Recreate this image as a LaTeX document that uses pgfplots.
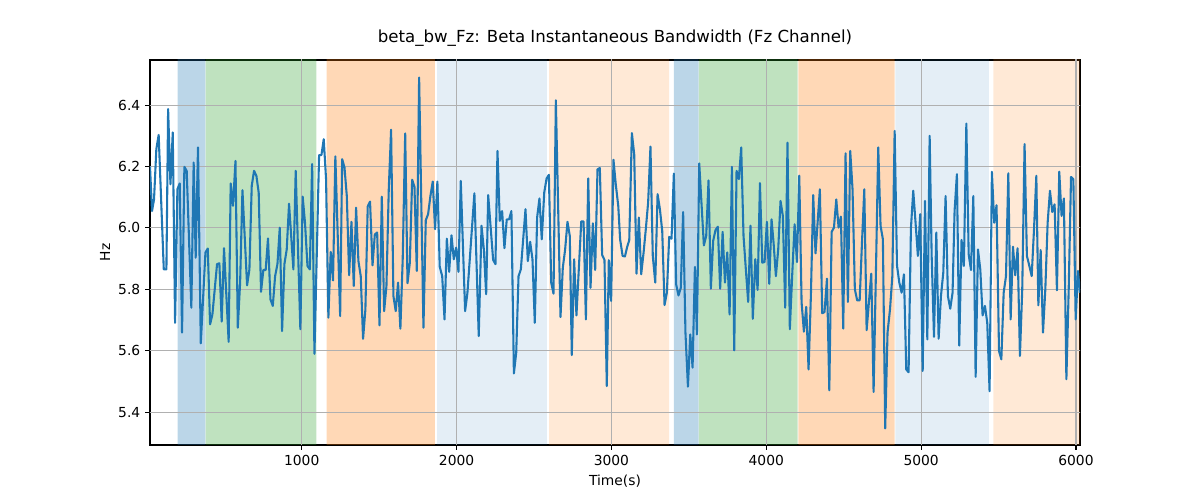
\documentclass[border=0pt]{standalone}
\usepackage{fontspec}
\setmainfont{DejaVu Sans}
\usepackage{pgfplots}
\pgfplotsset{compat=1.18}
\usepackage{pgfplotstable}
\definecolor{tabblue}{RGB}{31,119,180}
\definecolor{taborange}{RGB}{255,127,14}
\definecolor{tabgreen}{RGB}{44,160,44}
\definecolor{gridgray}{RGB}{176,176,176}

\pgfplotstableread{
t v
20 6.200
33 6.055
46 6.093
61 6.257
76 6.303
109 5.865
126 5.865
137 6.387
152 6.142
167 6.311
182 5.691
197 6.126
212 6.145
227 5.659
242 6.199
257 6.186
287 5.740
302 6.213
315 5.903
330 6.262
348 5.624
378 5.920
393 5.933
408 5.686
423 5.718
453 5.882
468 5.885
483 5.695
498 5.934
528 5.629
541 6.145
556 6.072
572 6.218
587 5.675
602 5.822
617 6.123
647 5.813
662 5.865
677 6.137
692 6.186
707 6.170
722 6.115
737 5.792
752 5.863
767 5.863
782 5.966
798 5.767
813 5.746
828 5.843
843 5.882
858 6.001
873 5.664
888 5.882
903 5.930
918 6.079
946 5.865
961 6.186
991 5.670
1006 6.102
1021 6.017
1037 5.876
1052 5.865
1067 6.208
1082 5.590
1112 6.237
1127 6.237
1142 6.289
1157 6.159
1172 5.708
1187 5.922
1202 5.829
1217 6.233
1248 5.713
1261 6.224
1276 6.197
1291 6.104
1306 5.846
1321 6.020
1336 5.811
1351 6.066
1366 5.892
1381 5.843
1396 5.639
1411 5.734
1426 6.070
1441 6.086
1457 5.878
1472 5.979
1487 5.985
1502 5.683
1517 6.102
1532 5.729
1547 5.811
1562 6.126
1577 6.320
1592 5.778
1607 5.729
1622 5.822
1637 5.672
1652 5.898
1668 6.308
1683 5.820
1698 5.887
1713 6.157
1728 6.134
1743 5.860
1758 6.490
1786 5.675
1801 6.025
1816 6.045
1831 6.104
1846 6.151
1861 5.996
1876 6.151
1891 5.874
1907 5.843
1922 5.702
1937 5.965
1952 5.857
1967 5.976
1982 5.898
1997 5.936
2012 5.857
2027 6.153
2055 5.729
2070 5.789
2115 6.113
2143 5.648
2161 6.007
2176 5.930
2191 5.784
2204 6.107
2236 5.896
2251 5.882
2264 6.251
2279 6.023
2294 6.055
2309 5.934
2324 6.028
2339 6.028
2354 6.055
2370 5.526
2385 5.593
2400 5.843
2415 5.865
2445 6.061
2460 5.892
2475 5.955
2490 5.898
2505 5.691
2520 6.034
2535 6.096
2550 5.963
2566 6.115
2581 6.161
2596 6.173
2611 5.822
2626 5.786
2641 6.416
2671 5.710
2686 5.871
2701 5.930
2716 6.020
2731 5.974
2744 5.586
2759 5.898
2774 5.715
2805 6.021
2820 6.021
2835 5.702
2850 6.161
2865 5.805
2880 6.015
2895 5.863
2910 6.191
2925 6.195
2940 5.912
2955 5.896
2970 5.485
2983 5.895
2998 5.762
3013 6.222
3028 6.142
3044 6.072
3056 5.963
3072 5.909
3087 5.907
3102 5.939
3115 5.960
3132 6.309
3147 6.240
3162 5.851
3177 6.034
3192 5.849
3207 5.917
3222 5.996
3237 6.083
3252 6.265
3267 5.909
3283 5.822
3298 6.110
3313 6.061
3328 5.990
3343 5.749
3358 5.789
3373 5.971
3388 5.965
3403 6.177
3418 5.816
3433 5.780
3448 5.805
3463 6.052
3478 5.659
3494 5.483
3509 5.653
3524 5.545
3539 5.873
3552 5.653
3567 6.210
3597 5.943
3612 5.974
3627 6.155
3642 5.802
3657 5.958
3672 5.993
3687 6.004
3702 5.802
3718 5.987
3733 5.822
3748 5.920
3763 5.718
3778 6.199
3793 5.601
3808 6.186
3823 6.159
3838 6.262
3853 5.974
3868 5.865
3883 5.759
3898 6.007
3913 5.704
3929 5.898
3944 5.798
3959 6.146
3974 5.887
3989 5.889
4004 6.020
4019 5.818
4034 6.028
4047 5.952
4062 5.843
4077 5.930
4092 6.088
4107 6.039
4122 5.740
4137 6.278
4152 5.670
4168 5.854
4183 6.012
4198 5.889
4213 6.170
4228 5.757
4243 5.662
4258 5.743
4273 5.539
4288 5.778
4303 6.107
4318 5.917
4346 6.126
4361 5.722
4376 5.726
4392 5.835
4407 5.471
4422 5.987
4437 6.001
4452 6.093
4467 6.001
4482 6.037
4497 5.672
4512 6.243
4527 5.759
4542 6.251
4557 6.126
4572 5.800
4587 5.764
4603 5.764
4618 5.952
4633 6.126
4648 5.667
4678 5.851
4693 5.466
4708 5.854
4723 6.262
4738 6.007
4753 5.963
4768 5.347
4783 5.659
4799 5.735
4814 5.843
4829 6.316
4844 5.878
4859 5.822
4874 5.789
4889 5.849
4904 5.539
4919 5.530
4934 5.998
4949 6.121
4964 6.017
4979 5.909
4994 6.045
5010 5.534
5025 6.088
5040 5.637
5055 6.300
5068 5.909
5083 5.645
5098 5.985
5113 5.639
5128 5.778
5143 5.854
5158 6.104
5173 5.778
5188 5.737
5203 5.789
5216 6.055
5231 6.175
5246 5.617
5261 5.961
5276 5.876
5292 6.340
5307 5.914
5322 5.863
5337 6.104
5352 5.515
5367 5.930
5382 5.865
5397 5.715
5412 5.746
5427 5.691
5442 5.468
5457 6.183
5472 6.017
5487 6.074
5503 5.599
5518 5.572
5533 5.789
5548 5.843
5563 6.178
5578 5.702
5593 5.939
5608 5.846
5623 5.934
5638 5.583
5653 5.800
5668 6.273
5683 5.909
5699 5.876
5714 5.843
5729 5.996
5744 6.170
5757 5.748
5772 5.928
5787 5.659
5802 5.800
5817 6.017
5832 6.121
5847 6.052
5862 6.077
5877 5.797
5892 6.183
5907 6.039
5922 6.096
5938 5.507
5953 5.800
5968 6.166
5983 6.159
5998 5.702
6013 5.860
6026 5.789
}\datatable

\begin{document}
\begin{tikzpicture}
\useasboundingbox (-108bp,-39.6bp) rectangle (756bp,320.4bp);
\begin{axis}[
  at={(0,0)}, anchor=south west,
  scale only axis, width=669.6bp, height=277.2bp,
  xmin=20, xmax=6026, ymin=5.293, ymax=6.547,
  xtick={1000,2000,3000,4000,5000,6000},
  ytick={5.4,5.6,5.8,6.0,6.2,6.4},
  axis line style={black, line width=0.8bp},
  tick style={black, line width=0.8bp},
  tick align=outside, tick pos=left,
  major tick length=3.5bp,
  ticklabel style={font=\fontsize{10}{12}\selectfont},
  /pgf/number format/assume math mode=true,
  xticklabel style={/pgf/number format/1000 sep={}},
  yticklabel style={/pgf/number format/fixed, /pgf/number format/precision=1, /pgf/number format/fixed zerofill},
  title={beta\_bw\_Fz: Beta Instantaneous Bandwidth (Fz Channel)},
  title style={font=\fontsize{12}{14}\selectfont, at={(axis description cs:0.5,1.0364)}, anchor=center},
  xlabel={Time(s)}, ylabel={Hz},
  label style={font=\fontsize{10}{12}\selectfont},
  xlabel style={at={(axis description cs:0.5,-0.0935)}, anchor=center},
  ylabel style={at={(axis description cs:-0.0484,0.5)}, anchor=center, rotate=0},
]
% spans
\addplot[fill=tabblue, draw=none, fill opacity=0.3] coordinates {(199,5.1) (378,5.1) (378,6.7) (199,6.7) (199,5.1)};
\addplot[fill=tabgreen, draw=none, fill opacity=0.3] coordinates {(379,5.1) (1095,5.1) (1095,6.7) (379,6.7) (379,5.1)};
\addplot[fill=taborange, draw=none, fill opacity=0.3] coordinates {(1161,5.1) (1859,5.1) (1859,6.7) (1161,6.7) (1161,5.1)};
\addplot[fill=tabblue, draw=none, fill opacity=0.12] coordinates {(1874,5.1) (2583,5.1) (2583,6.7) (1874,6.7) (1874,5.1)};
\addplot[fill=taborange, draw=none, fill opacity=0.17] coordinates {(2598,5.1) (3373,5.1) (3373,6.7) (2598,6.7) (2598,5.1)};
\addplot[fill=tabblue, draw=none, fill opacity=0.3] coordinates {(3403,5.1) (3563,5.1) (3563,6.7) (3403,6.7) (3403,5.1)};
\addplot[fill=tabgreen, draw=none, fill opacity=0.3] coordinates {(3564,5.1) (4203,5.1) (4203,6.7) (3564,6.7) (3564,5.1)};
\addplot[fill=taborange, draw=none, fill opacity=0.3] coordinates {(4207,5.1) (4829,5.1) (4829,6.7) (4207,6.7) (4207,5.1)};
\addplot[fill=tabblue, draw=none, fill opacity=0.12] coordinates {(4834,5.1) (5438,5.1) (5438,6.7) (4834,6.7) (4834,5.1)};
\addplot[fill=taborange, draw=none, fill opacity=0.17] coordinates {(5466,5.1) (6200,5.1) (6200,6.7) (5466,6.7) (5466,5.1)};
% grid (above spans, below data)
\addplot[gridgray, line width=0.8bp] coordinates {(1000,5.1) (1000,6.7)};
\addplot[gridgray, line width=0.8bp] coordinates {(2000,5.1) (2000,6.7)};
\addplot[gridgray, line width=0.8bp] coordinates {(3000,5.1) (3000,6.7)};
\addplot[gridgray, line width=0.8bp] coordinates {(4000,5.1) (4000,6.7)};
\addplot[gridgray, line width=0.8bp] coordinates {(5000,5.1) (5000,6.7)};
\addplot[gridgray, line width=0.8bp] coordinates {(6000,5.1) (6000,6.7)};
\addplot[gridgray, line width=0.8bp] coordinates {(-100,5.4) (6200,5.4)};
\addplot[gridgray, line width=0.8bp] coordinates {(-100,5.6) (6200,5.6)};
\addplot[gridgray, line width=0.8bp] coordinates {(-100,5.8) (6200,5.8)};
\addplot[gridgray, line width=0.8bp] coordinates {(-100,6.0) (6200,6.0)};
\addplot[gridgray, line width=0.8bp] coordinates {(-100,6.2) (6200,6.2)};
\addplot[gridgray, line width=0.8bp] coordinates {(-100,6.4) (6200,6.4)};
% data
\addplot[tabblue, line width=1.5bp, line join=round, mark=none] table[x=t, y=v] {\datatable};
\end{axis}
\end{tikzpicture}
\end{document}
